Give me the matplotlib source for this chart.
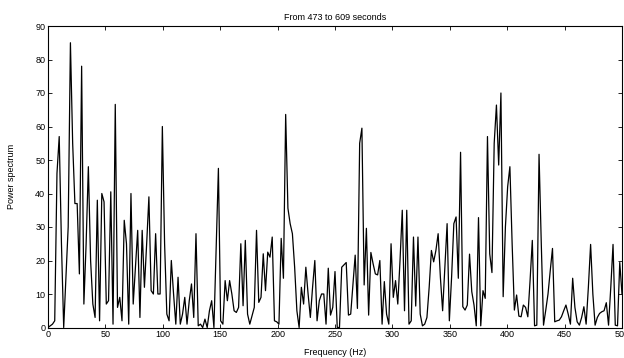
import numpy as np
import matplotlib
matplotlib.use("Agg")
import matplotlib.pyplot as plt

plt.rcParams['font.family'] = ['Liberation Sans', 'DejaVu Sans']

title = "From 473 to 609 seconds"
xlabel = "Frequency (Hz)"
ylabel = "Power spectrum"
xticks = list(range(0, 501, 50))
yticks = list(range(0, 91, 10))

power = [
    0, 0.5, 1, 2, 46, 57, 25, 0, 15, 30,
    85, 55, 37, 37, 16, 78, 7, 25, 48, 20,
    7, 3, 38, 2, 40, 37.5, 7, 8, 40.5, 1,
    66.6, 6, 9, 2, 32, 25, 1, 40, 7, 18,
    29, 3, 29, 12, 25, 39, 11, 10, 28, 10,
    10, 60, 25, 4, 2, 20, 10, 1, 15, 1,
    4, 9, 1, 8, 13, 3, 28, 0.5, 1, 0,
    2.5, 0, 5, 8, 0, 24, 47.5, 2, 1, 14,
    8, 14, 10, 5, 4.5, 6, 25, 6.5, 26, 4,
    1, 3.5, 6, 29, 7.5, 9, 22, 11, 22.5, 21,
    27, 2, 1.7, 1, 26.6, 14.7, 63.6, 35.6, 31, 28,
    18, 5, 0, 12, 7, 18, 10, 3, 12, 20,
    2, 8, 10, 10, 1, 17.7, 3.7, 6, 16.7, 0,
    0, 18, 18.7, 19.4, 3.7, 4, 13, 21.6, 5.7, 55,
    59.5, 12.7, 29.6, 3.7, 22.4, 19, 16, 15.7, 20, 1,
    13.7, 4, 1, 25, 9, 14, 7, 20, 35, 5,
    35, 1, 2, 27, 6.4, 27, 4, 0.5, 1, 3,
    12, 23, 19.6, 23, 28, 15, 5, 18, 31, 2,
    15, 31, 33, 14.7, 52.3, 6.2, 5.2, 6.7, 21.9, 10.7,
    6.7, 0.5, 32.8, 0.5, 11, 8.7, 57, 22, 16.4, 55,
    66.4, 48.5, 70, 9.2, 30, 42, 48, 25, 5.2, 9.7,
    3.4, 3.2, 6.7, 6, 3.2, 14, 26, 0.5, 0.7, 51.7,
    25, 0.7, 5.2, 10, 17, 23.6, 1.7, 2, 2.2, 3.2,
    5, 6.7, 4, 1, 14.7, 6, 1.7, 0.7, 3, 6.2,
    1, 12, 24.8, 10, 0.7, 3, 4.2, 4.7, 5, 7.4,
    0.7, 12, 24.8, 0.7, 0.5, 19.4, 10,
]
freq_step = 500 / 256
freq = np.arange(len(power)) * freq_step

fig = plt.figure(figsize=(6.24, 3.58), dpi=100)
ax = fig.add_axes([48/624, 1-327.5/358, (622-48)/624, (327.5-26)/358])
ax.plot(freq, power, color='black', linewidth=0.9)
ax.set_xlim(0, 500)
ax.set_ylim(0, 90)
ax.set_xticks(xticks)
ax.set_yticks(yticks)
ax.tick_params(direction='in', top=True, right=True, length=3, width=0.6,
               labelsize=6.5, pad=2)
for s in ax.spines.values():
    s.set_linewidth(0.8)
ax.set_title(title, fontsize=6.5, pad=4)
ax.set_xlabel(xlabel, fontsize=6.5, labelpad=6)
ax.set_ylabel(ylabel, fontsize=6.5, labelpad=14)
fig.savefig("out.png", dpi=100)
